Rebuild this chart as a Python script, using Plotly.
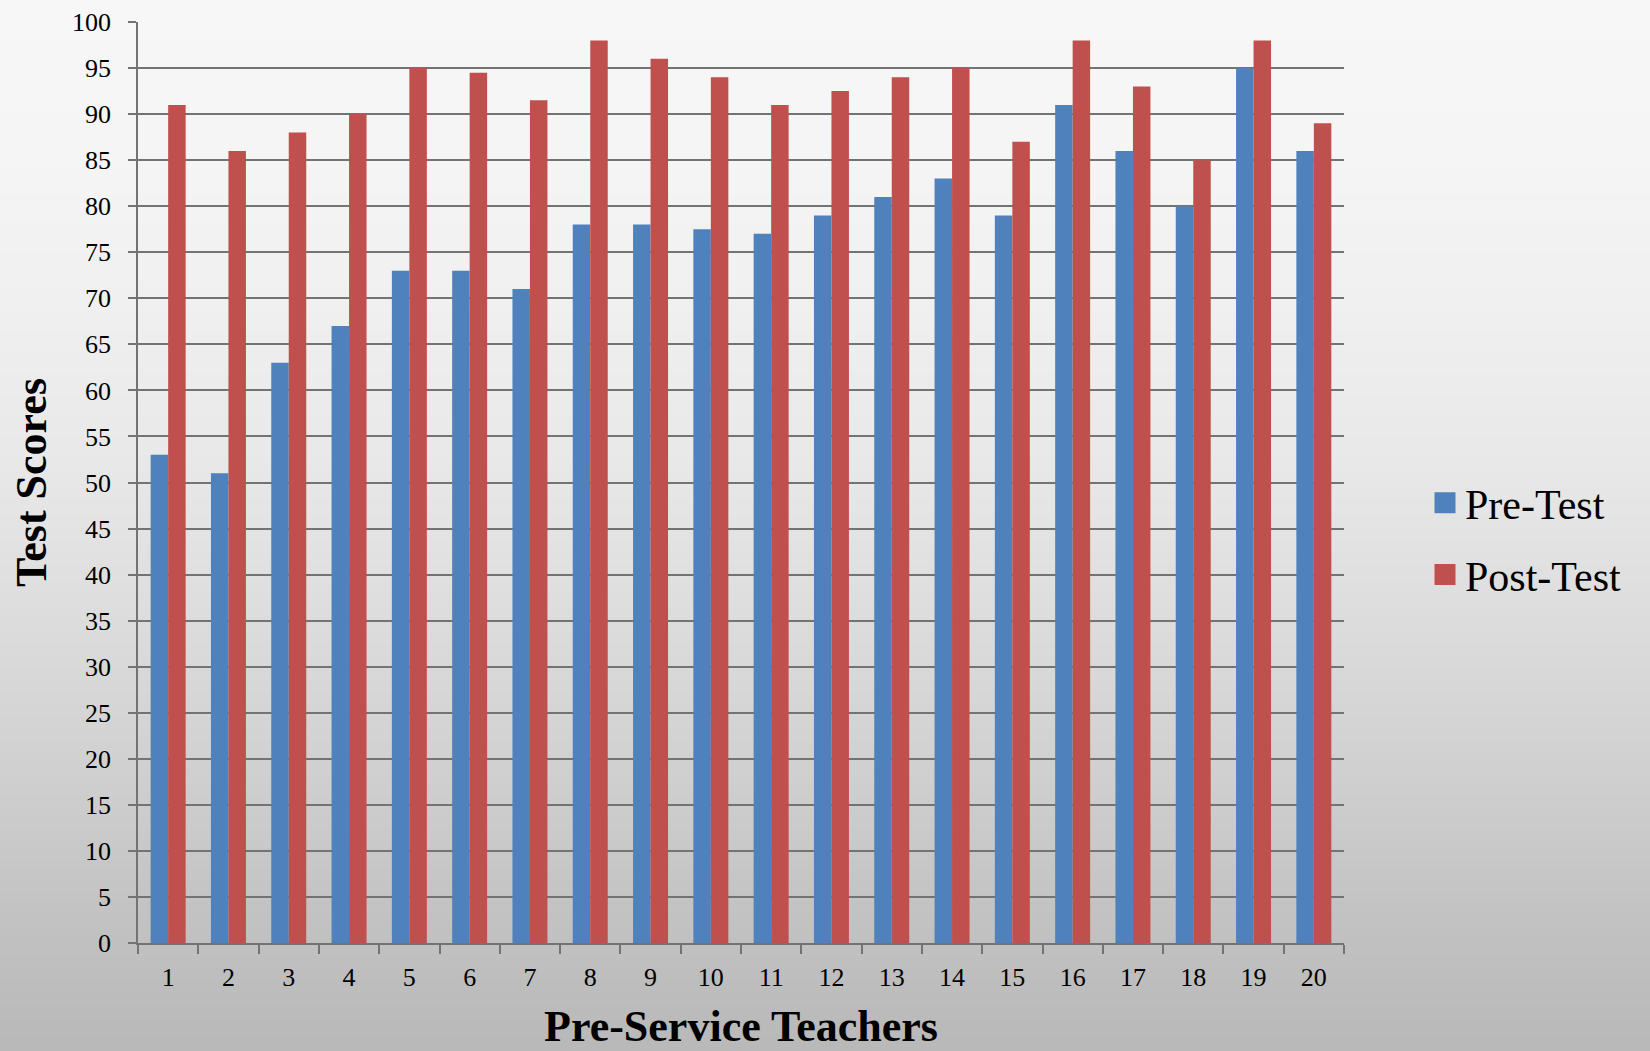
import base64, struct, zlib
import plotly.graph_objects as go

teachers = [str(i) for i in range(1, 21)]
pre_test = [53, 51, 63, 67, 73, 73, 71, 78, 78, 77.5, 77, 79, 81, 83, 79, 91, 86, 80, 95, 86]
post_test = [91, 86, 88, 90, 95, 94.5, 91.5, 98, 96, 94, 91, 92.5, 94, 95, 87, 98, 93, 85, 98, 89]
y_ticks = list(range(0, 101, 5))

BLUE = "#4F81BD"
RED = "#C0504D"
GRID = "#737373"
FONT = "Liberation Serif"

W, H = 1650, 1051
L, R, T, B = 138, 306, 22, 108
PW, PH = W - L - R, H - T - B


# vertical background gradient as a tiny PNG
def gradient_png(stops, height=256):
    rows = []
    for i in range(height):
        y = i / (height - 1) * H
        for (y0, v0), (y1, v1) in zip(stops[:-1], stops[1:]):
            if y0 <= y <= y1:
                v = v0 + (v1 - v0) * (y - y0) / (y1 - y0)
                break
        v = int(round(v))
        rows.append(b"\x00" + bytes([v, v, v]))
    raw = b"".join(rows)

    def chunk(tag, data):
        c = tag + data
        return struct.pack(">I", len(data)) + c + struct.pack(">I", zlib.crc32(c) & 0xFFFFFFFF)

    png = b"\x89PNG\r\n\x1a\n"
    png += chunk(b"IHDR", struct.pack(">IIBBBBB", 1, height, 8, 2, 0, 0, 0))
    png += chunk(b"IDAT", zlib.compress(raw))
    png += chunk(b"IEND", b"")
    return "data:image/png;base64," + base64.b64encode(png).decode()


bg_stops = [(0, 247), (150, 245), (300, 240), (450, 233), (525, 228), (600, 222),
            (750, 210), (900, 196), (1000, 188), (1051, 185)]

fig = go.Figure()
fig.add_trace(go.Bar(x=teachers, y=pre_test, name="Pre-Test", marker_color=BLUE,
                     marker_line_width=0, showlegend=False))
fig.add_trace(go.Bar(x=teachers, y=post_test, name="Post-Test", marker_color=RED,
                     marker_line_width=0, showlegend=False))
# legend entries (larger square keys, as in the original)
for name, col, grp in [("Pre-Test", BLUE, "a"), ("Post-Test", RED, "b")]:
    fig.add_trace(go.Scatter(x=[None], y=[None], mode="markers", name=name,
                             legendgroup=grp,
                             marker=dict(symbol="square", size=16, color=col,
                                         line=dict(color=col, width=5))))

fig.update_layout(
    width=W, height=H,
    margin=dict(l=L, r=R, t=T, b=B, autoexpand=False),
    paper_bgcolor="#dcdcdc",
    plot_bgcolor="rgba(0,0,0,0)",
    barmode="group", bargap=0.42, bargroupgap=0,
    font=dict(family=FONT, color="black"),
    images=[dict(source=gradient_png(bg_stops), xref="paper", yref="paper",
                 x=-L / PW, y=(PH + T) / PH, sizex=W / PW, sizey=H / PH,
                 xanchor="left", yanchor="top", sizing="stretch", layer="below")],
    legend=dict(x=(1425 - L) / PW, xanchor="left", y=(943 - 539) / PH, yanchor="middle",
                font=dict(family=FONT, size=42, color="black"), itemsizing="trace",
                bgcolor="rgba(0,0,0,0)", tracegroupgap=14, traceorder="grouped"),
    showlegend=True,
)

fig.update_xaxes(
    type="category", tickson="boundaries", ticks="outside", ticklen=9,
    tickwidth=1.5, tickcolor=GRID, showline=True, linecolor=GRID, linewidth=1.5,
    showgrid=False, tickfont=dict(family=FONT, size=26, color="black"),
    ticklabelstandoff=10,
    title=dict(text="<b>Pre-Service Teachers</b>", font=dict(family=FONT, size=44, color="black"),
               standoff=31),
)
fig.update_yaxes(
    range=[0, 100], tickvals=y_ticks, ticks="outside", ticklen=8, tickwidth=1.5,
    tickcolor=GRID, showline=True, linecolor=GRID, linewidth=1.5,
    showgrid=True, gridcolor=GRID, gridwidth=1.6, zeroline=False,
    tickfont=dict(family=FONT, size=26, color="black"), ticklabelstandoff=12,
    title=dict(text="<b>Test Scores</b>", font=dict(family=FONT, size=44, color="black"),
               standoff=12),
)

fig.write_html("out.html", config={"displayModeBar": False},
               post_script="document.body.style.margin='0';")
